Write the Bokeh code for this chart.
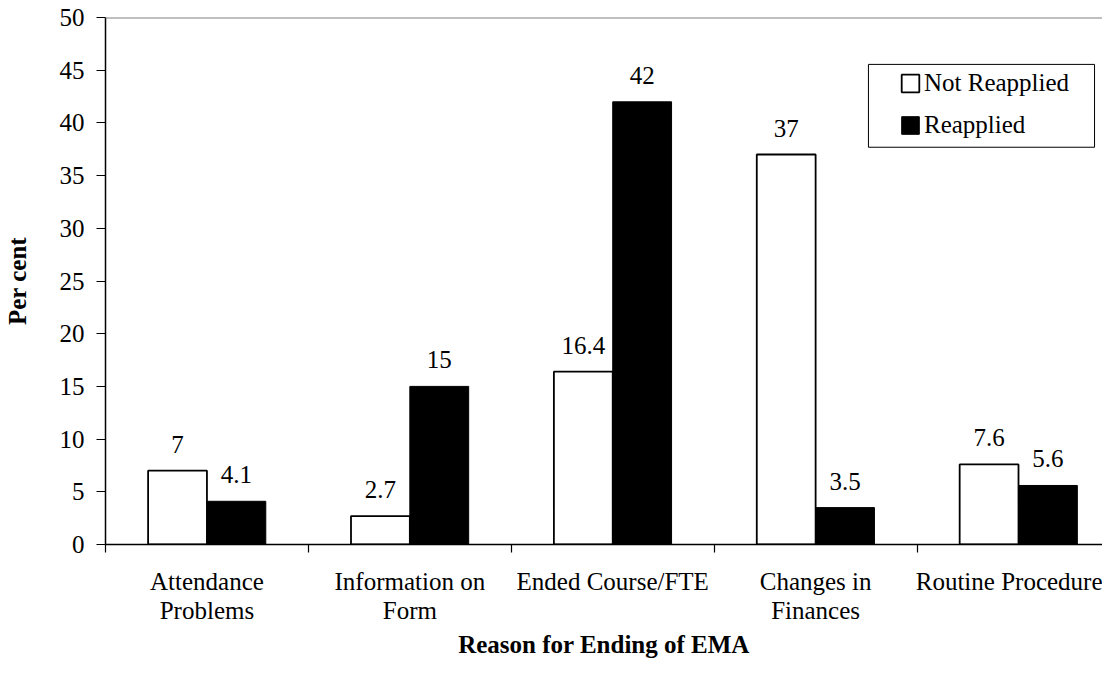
from bokeh.plotting import figure
from bokeh.models import (BoxAnnotation, ColumnDataSource, FixedTicker, LabelSet,
                          Legend, LegendItem, Span)
from bokeh.embed import file_html
from bokeh.resources import INLINE

# ---- data ----
categories = ["Attendance\nProblems", "Information on\nForm", "Ended Course/FTE",
              "Changes in\nFinances", "Routine Procedure"]
not_reapplied = [7, 2.7, 16.4, 37, 7.6]
reapplied = [4.1, 15, 42, 3.5, 5.6]
series_names = ["Not Reapplied", "Reapplied"]
y_ticks = [0, 5, 10, 15, 20, 25, 30, 35, 40, 45, 50]

FONT = "Liberation Serif"
BAR_W = 0.29

centers = [i + 0.5 for i in range(len(categories))]
x_nr = [c - BAR_W / 2 for c in centers]
x_r = [c + BAR_W / 2 for c in centers]


def fmt(v):
    return f"{v:g}"


src_nr = ColumnDataSource(dict(x=x_nr, top=not_reapplied,
                               label=[fmt(v) for v in not_reapplied]))
src_r = ColumnDataSource(dict(x=x_r, top=reapplied,
                              label=[fmt(v) for v in reapplied]))

p = figure(width=1102, height=661, x_range=(0, 4.914), y_range=(0, 50),
           output_backend="svg", toolbar_location=None,
           min_border_left=101, min_border_right=0,
           min_border_top=17, min_border_bottom=116)
p.background_fill_color = "white"
p.border_fill_color = "white"
p.outline_line_color = None
p.xgrid.visible = False
p.ygrid.visible = False

r1 = p.vbar(x="x", top="top", bottom=0, width=BAR_W, source=src_nr,
            fill_color="white", line_color="black", line_width=1.8)
r2 = p.vbar(x="x", top="top", bottom=0, width=BAR_W, source=src_r,
            fill_color="black", line_color="black", line_width=1)

for src in (src_nr, src_r):
    p.add_layout(LabelSet(x="x", y="top", text="label", source=src,
                          text_align="center", text_baseline="alphabetic",
                          y_offset=18, text_font=FONT, text_font_size="25px",
                          text_color="black"))

p.add_layout(Span(location=50, dimension="width", line_color="#808080",
                  line_width=2))

# y axis
yax = p.yaxis[0]
yax.ticker = FixedTicker(ticks=y_ticks)
yax.major_tick_out = 9
yax.major_tick_in = 0
yax.minor_tick_line_color = None
yax.axis_line_color = "black"
yax.axis_line_width = 1.5
yax.major_tick_line_color = "black"
yax.major_tick_line_width = 1.2
yax.major_label_text_font = FONT
yax.major_label_text_font_size = "25px"
yax.major_label_text_color = "black"
yax.major_label_standoff = 12
yax.axis_label = "Per cent"
yax.axis_label_text_font = FONT
yax.axis_label_text_font_style = "bold"
yax.axis_label_text_font_size = "25px"
yax.axis_label_text_color = "black"
yax.axis_label_standoff = 26

# x axis
xax = p.xaxis[0]
xax.ticker = FixedTicker(ticks=centers, minor_ticks=list(range(len(categories) + 1)))
xax.major_label_overrides = {c: cat for c, cat in zip(centers, categories)}
xax.major_tick_line_color = None
xax.major_tick_out = 0
xax.major_tick_in = 0
xax.minor_tick_out = 8
xax.minor_tick_in = 0
xax.minor_tick_line_color = "black"
xax.minor_tick_line_width = 1.2
xax.axis_line_color = "black"
xax.axis_line_width = 1.5
xax.major_label_text_font = FONT
xax.major_label_text_font_size = "25px"
xax.major_label_text_color = "black"
xax.major_label_text_line_height = 1.1
xax.major_label_standoff = 15
xax.axis_label = "Reason for Ending of EMA"
xax.axis_label_text_font = FONT
xax.axis_label_text_font_style = "bold"
xax.axis_label_text_font_size = "25px"
xax.axis_label_text_color = "black"
xax.axis_label_standoff = 4

# legend frame (drawn separately so the keys can sit further inside it)
p.add_layout(BoxAnnotation(left=3.7604, right=4.8748, bottom=37.69, top=45.55,
                           fill_color="white", fill_alpha=1,
                           line_color="black", line_width=1, line_alpha=1))

legend = Legend(items=[LegendItem(label=series_names[0], renderers=[r1]),
                       LegendItem(label=series_names[1], renderers=[r2])],
                location=(794, 405), margin=0, padding=0, spacing=14,
                glyph_width=22, glyph_height=22, label_standoff=3,
                label_text_font=FONT,
                label_text_font_size="25px", label_text_color="black",
                border_line_color=None, background_fill_alpha=0)
p.add_layout(legend)

open("out.html", "w").write(file_html(p, INLINE))
